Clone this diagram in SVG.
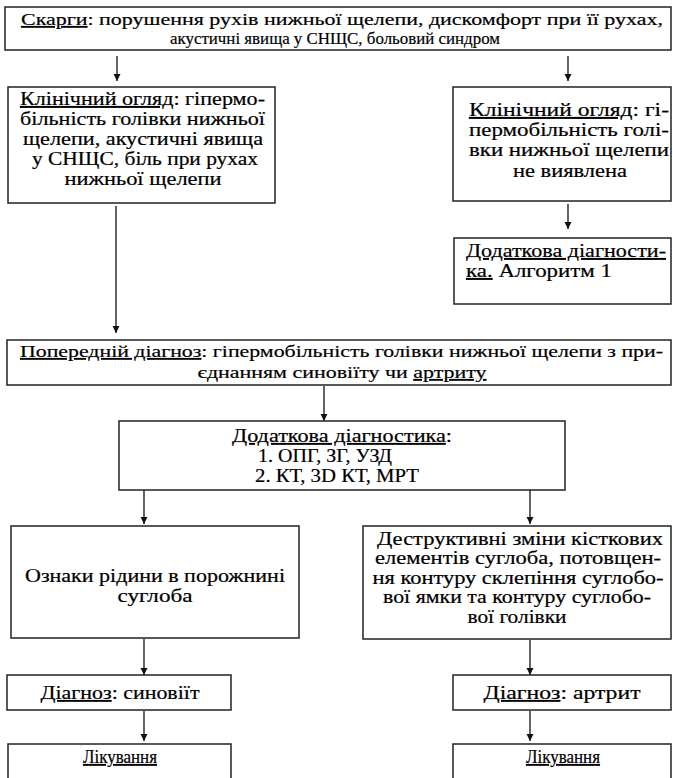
<svg xmlns="http://www.w3.org/2000/svg" width="673" height="778" viewBox="0 0 673 778">
<style>
.box{fill:#fff;stroke:#222;stroke-width:1.5}
.t{font-family:"Liberation Serif","DejaVu Serif","Times New Roman",serif;font-size:17.5px;fill:#000;stroke:#000;stroke-width:0.2}
.b{font-size:19px}
.s{font-size:18px}
.m{text-anchor:middle}
.u{text-decoration:underline}
.c{stroke:#111;stroke-width:1.3;fill:none}
</style>
<defs>
<marker id="ah" markerUnits="userSpaceOnUse" markerWidth="8" markerHeight="8" refX="7" refY="3.5" orient="auto">
<path d="M0,0 L7,3.5 L0,7 z" fill="#111"/>
</marker>
</defs>
<rect width="673" height="778" fill="#fff"/>
<g id="connectors">
<line class="c" x1="117" y1="56" x2="117" y2="81" marker-end="url(#ah)"/>
<line class="c" x1="568" y1="56" x2="568" y2="81" marker-end="url(#ah)"/>
<line class="c" x1="568" y1="204" x2="568" y2="229" marker-end="url(#ah)"/>
<line class="c" x1="116" y1="206" x2="116" y2="333" marker-end="url(#ah)"/>
<line class="c" x1="324" y1="386" x2="324" y2="421" marker-end="url(#ah)"/>
<line class="c" x1="144" y1="487" x2="144" y2="524" marker-end="url(#ah)"/>
<line class="c" x1="530" y1="487" x2="530" y2="524" marker-end="url(#ah)"/>
<line class="c" x1="144" y1="639" x2="144" y2="675" marker-end="url(#ah)"/>
<line class="c" x1="530" y1="640" x2="530" y2="675" marker-end="url(#ah)"/>
<line class="c" x1="144" y1="711" x2="144" y2="741" marker-end="url(#ah)"/>
<line class="c" x1="530" y1="711" x2="530" y2="741" marker-end="url(#ah)"/>
</g>
<g id="complaints">
<rect class="box" x="5" y="7" width="666" height="43"/>
<text class="t" x="21" y="25" textLength="642" lengthAdjust="spacingAndGlyphs"><tspan class="u">Скарги</tspan>: порушення рухів нижньої щелепи, дискомфорт при її рухах,</text>
<text class="t m" x="335" y="44" textLength="330" lengthAdjust="spacingAndGlyphs">акустичні явища у СНЩС, больовий синдром</text>
</g>
<g id="exam-positive">
<rect class="box" x="8" y="87" width="267" height="116"/>
<text class="t b" x="20" y="105" textLength="245" lengthAdjust="spacingAndGlyphs"><tspan class="u">Клінічний огляд</tspan>: гіпермо-</text>
<text class="t b" x="20" y="125" textLength="245" lengthAdjust="spacingAndGlyphs">більність голівки нижньої</text>
<text class="t b" x="23" y="145" textLength="240" lengthAdjust="spacingAndGlyphs">щелепи, акустичні явища</text>
<text class="t b m" x="145" y="165" textLength="226" lengthAdjust="spacingAndGlyphs">у СНЩС, біль при рухах</text>
<text class="t b m" x="143" y="185" textLength="157" lengthAdjust="spacingAndGlyphs">нижньої щелепи</text>
</g>
<g id="exam-negative">
<rect class="box" x="453" y="87" width="218" height="114"/>
<text class="t b" x="469" y="116" textLength="200" lengthAdjust="spacingAndGlyphs"><tspan class="u">Клінічний огляд</tspan>: гі-</text>
<text class="t b" x="469" y="136" textLength="200" lengthAdjust="spacingAndGlyphs">пермобільність голі-</text>
<text class="t b" x="469" y="156" textLength="200" lengthAdjust="spacingAndGlyphs">вки нижньої щелепи</text>
<text class="t b m" x="570" y="177" textLength="114" lengthAdjust="spacingAndGlyphs">не виявлена</text>
</g>
<g id="extra-diag-1">
<rect class="box" x="454" y="238" width="217" height="66"/>
<text class="t b u" x="466" y="257" textLength="200" lengthAdjust="spacingAndGlyphs">Додаткова діагности-</text>
<text class="t b" x="466" y="277" textLength="146" lengthAdjust="spacingAndGlyphs"><tspan class="u">ка.</tspan> Алгоритм 1</text>
</g>
<g id="preliminary">
<rect class="box" x="7" y="340" width="664" height="45"/>
<text class="t" x="20" y="357" textLength="643" lengthAdjust="spacingAndGlyphs"><tspan class="u">Попередній діагноз</tspan>: гіпермобільність голівки нижньої щелепи з при-</text>
<text class="t m" x="342" y="378" textLength="289" lengthAdjust="spacingAndGlyphs">єднанням синовіїту чи <tspan class="u">артриту</tspan></text>
</g>
<g id="extra-diag-2">
<rect class="box" x="119" y="421" width="446" height="69"/>
<text class="t s m" x="342" y="442" textLength="220" lengthAdjust="spacingAndGlyphs"><tspan class="u">Додаткова діагностика</tspan>:</text>
<text class="t s" x="258" y="462" textLength="134" lengthAdjust="spacingAndGlyphs">1. ОПГ, ЗГ, УЗД</text>
<text class="t s" x="255" y="482" textLength="164" lengthAdjust="spacingAndGlyphs">2. КТ, 3D КТ, МРТ</text>
</g>
<g id="fluid">
<rect class="box" x="11" y="526" width="288" height="112"/>
<text class="t s m" x="155" y="582" textLength="260" lengthAdjust="spacingAndGlyphs">Ознаки рідини в порожнині</text>
<text class="t s m" x="155" y="602" textLength="75" lengthAdjust="spacingAndGlyphs">суглоба</text>
</g>
<g id="destructive">
<rect class="box" x="363" y="526" width="308" height="113"/>
<text class="t s m" x="520" y="545" textLength="286" lengthAdjust="spacingAndGlyphs">Деструктивні зміни кісткових</text>
<text class="t s m" x="518" y="564" textLength="286" lengthAdjust="spacingAndGlyphs">елементів суглоба, потовщен-</text>
<text class="t s m" x="518" y="584" textLength="291" lengthAdjust="spacingAndGlyphs">ня контуру склепіння суглобо-</text>
<text class="t s m" x="517" y="603" textLength="268" lengthAdjust="spacingAndGlyphs">вої ямки та контуру суглобо-</text>
<text class="t s m" x="517" y="623" textLength="99" lengthAdjust="spacingAndGlyphs">вої голівки</text>
</g>
<g id="diag-synovitis">
<rect class="box" x="7" y="675" width="224" height="35"/>
<text class="t s m" x="120" y="699" textLength="159" lengthAdjust="spacingAndGlyphs"><tspan class="u">Діагноз</tspan>: синовіїт</text>
</g>
<g id="diag-arthritis">
<rect class="box" x="453" y="675" width="218" height="35"/>
<text class="t s m" x="562" y="699" textLength="157" lengthAdjust="spacingAndGlyphs"><tspan class="u">Діагноз</tspan>: артрит</text>
</g>
<g id="treat-left">
<rect class="box" x="8" y="744" width="223" height="50"/>
<text class="t s m u" x="120" y="763" textLength="74" lengthAdjust="spacingAndGlyphs">Лікування</text>
</g>
<g id="treat-right">
<rect class="box" x="453" y="744" width="218" height="50"/>
<text class="t s m u" x="563" y="763" textLength="74" lengthAdjust="spacingAndGlyphs">Лікування</text>
</g>
</svg>
